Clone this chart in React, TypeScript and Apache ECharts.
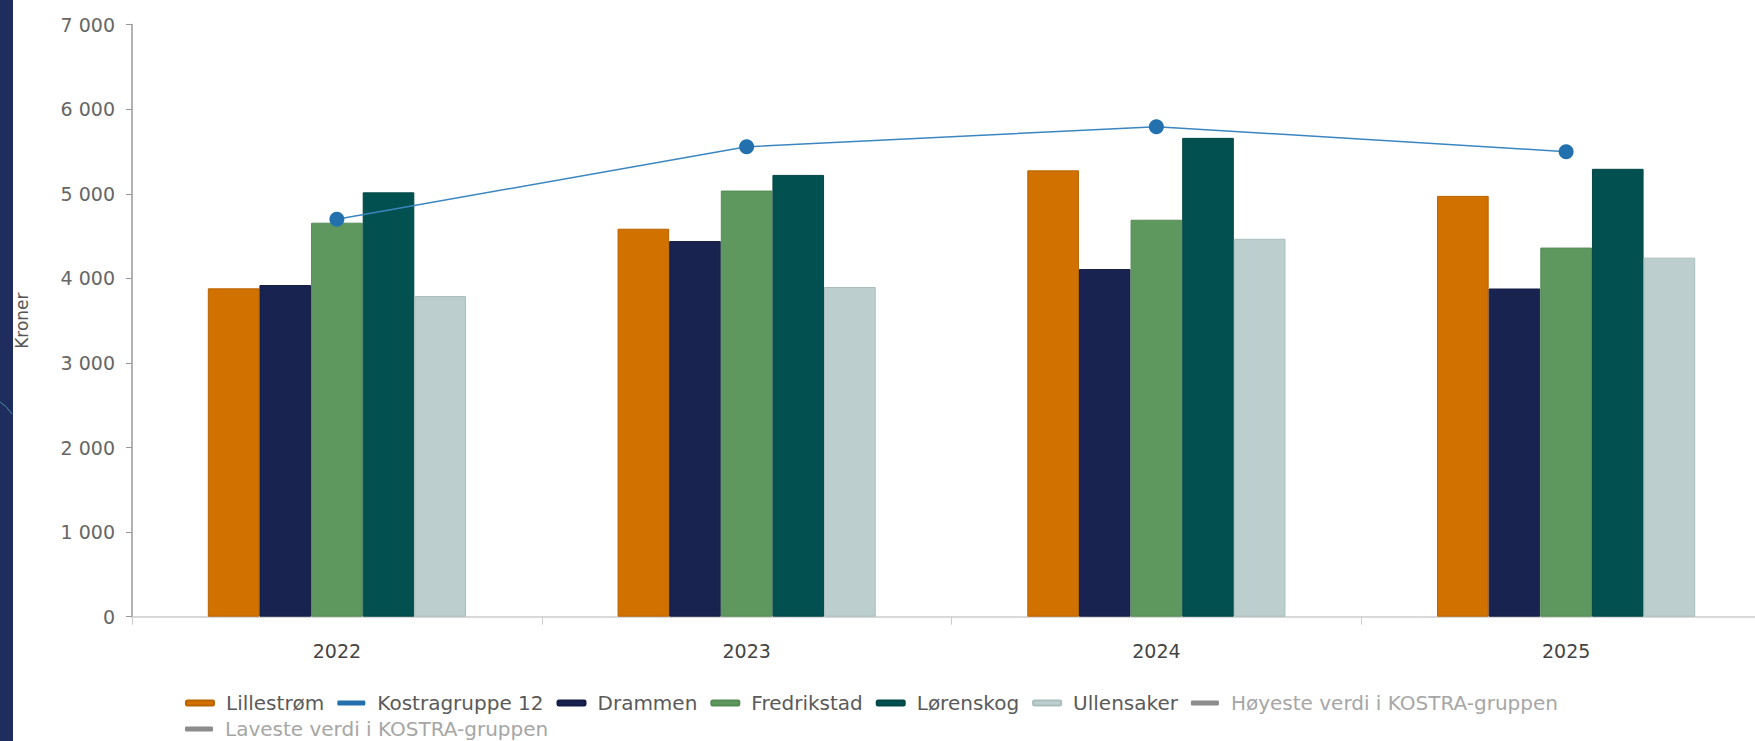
import React, { useEffect, useRef } from "react";
import * as echarts from "echarts";

const years = ["2022", "2023", "2024", "2025"];
const lillestrom = [3882, 4587, 5277, 4975];
const kostragruppe12 = [4700, 5555, 5793, 5498];
const drammen = [3921, 4441, 4110, 3880];
const fredrikstad = [4658, 5038, 4693, 4364];
const lorenskog = [5017, 5223, 5661, 5295];
const ullensaker = [3791, 3898, 4468, 4245];
const yTicks = [0, 1000, 2000, 3000, 4000, 5000, 6000, 7000];

const FONT = "'DejaVu Sans', 'Liberation Sans', Arial, sans-serif";

export default function App() {
  const ref = useRef<HTMLDivElement>(null);
  useEffect(() => {
    if (!ref.current) return;
    const chart = echarts.init(ref.current, null, { renderer: "svg" });
    const bar = (name: string, data: number[], color: string, border: string) => ({
      name,
      type: "bar",
      data,
      barGap: "0%",
      barCategoryGap: "37%",
      itemStyle: { color, borderColor: border, borderWidth: 1 },
    });
    const legendBase = {
      left: 185,
      padding: 0,
      icon: "roundRect",
      itemWidth: 28,
      itemHeight: 5,
      itemGap: 13,
      textStyle: { fontSize: 20, color: "#5a5a5a", fontFamily: FONT, padding: [0, 0, 0, 7] },
    };
    chart.setOption({
      animation: false,
      backgroundColor: "#ffffff",
      textStyle: { fontFamily: FONT },
      graphic: [
        { type: "rect", left: 0, top: 0, shape: { width: 13, height: 741 }, style: { fill: "#1f2d5e" }, z: 100 },
        { type: "bezierCurve", shape: { x1: 0, y1: 402, x2: 12, y2: 414, cpx1: 6, cpy1: 405 }, style: { stroke: "#4a8f9a", lineWidth: 1, fill: "none" }, z: 101 },
      ],
      grid: { left: 132, right: 0, top: 24.6, bottom: 124.3, containLabel: false },
      legend: [
        {
          ...legendBase,
          top: 693,
          data: [
            { name: "Lillestrøm" },
            { name: "Kostragruppe 12" },
            { name: "Drammen" },
            { name: "Fredrikstad" },
            { name: "Lørenskog" },
            { name: "Ullensaker" },
            { name: "Høyeste verdi i KOSTRA-gruppen", textStyle: { color: "#a6a6a6" } },
          ],
        },
        {
          ...legendBase,
          top: 719,
          data: [{ name: "Laveste verdi i KOSTRA-gruppen", textStyle: { color: "#a6a6a6" } }],
        },
      ],
      xAxis: {
        type: "category",
        data: years,
        boundaryGap: true,
        axisLine: { lineStyle: { color: "#cccccc", width: 1.5 } },
        axisTick: { show: true, length: 8, lineStyle: { color: "#cccccc" } },
        axisLabel: { fontSize: 19, color: "#444444", margin: 25, fontFamily: FONT },
      },
      yAxis: {
        type: "value",
        min: 0,
        max: 7000,
        interval: 1000,
        name: "Kroner",
        nameLocation: "middle",
        nameGap: 102,
        nameTextStyle: { fontSize: 17, color: "#555555", fontFamily: FONT },
        splitLine: { show: false },
        axisLine: { show: true, lineStyle: { color: "#999999", width: 1.5 } },
        axisTick: { show: true, length: 6, lineStyle: { color: "#999999" } },
        axisLabel: {
          fontSize: 19,
          color: "#666666",
          margin: 17,
          fontFamily: FONT,
          formatter: (v: number) => (yTicks.includes(v) ? String(v).replace(/\B(?=(\d{3})+(?!\d))/g, " ") : ""),
        },
      },
      series: [
        bar("Lillestrøm", lillestrom, "#d17200", "#b86200"),
        {
          name: "Kostragruppe 12",
          type: "line",
          data: kostragruppe12,
          symbol: "circle",
          symbolSize: 15,
          z: 10,
          lineStyle: { color: "#3a86c0", width: 1.5 },
          itemStyle: { color: "#2271ae" },
        },
        bar("Drammen", drammen, "#182350", "#141d44"),
        bar("Fredrikstad", fredrikstad, "#5e985e", "#548c54"),
        bar("Lørenskog", lorenskog, "#02504f", "#024646"),
        bar("Ullensaker", ullensaker, "#bccfce", "#a9bdbc"),
        { name: "Høyeste verdi i KOSTRA-gruppen", type: "line", data: [], itemStyle: { color: "#8c8c8c" }, lineStyle: { color: "#8c8c8c" } },
        { name: "Laveste verdi i KOSTRA-gruppen", type: "line", data: [], itemStyle: { color: "#8c8c8c" }, lineStyle: { color: "#8c8c8c" } },
      ],
    });
    return () => chart.dispose();
  }, []);
  return (
    <div
      ref={ref}
      style={{ position: "fixed", left: 0, top: 0, width: 1771, height: 741, background: "#fff" }}
    />
  );
}
